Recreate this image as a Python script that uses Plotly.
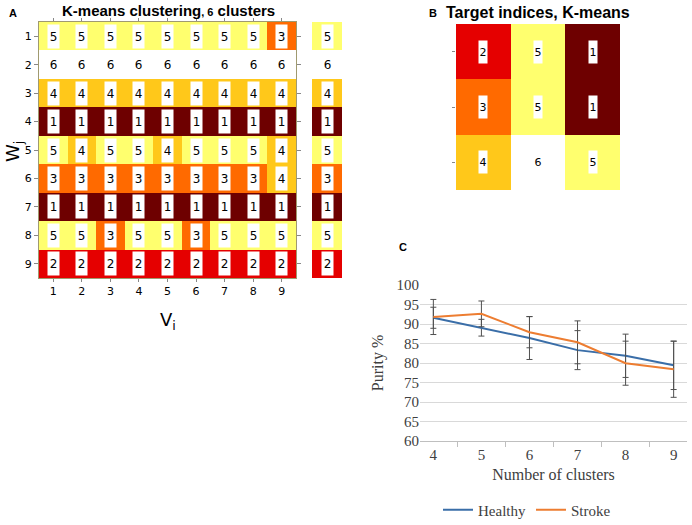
import plotly.graph_objects as go

# ---------------- data ----------------
rows_A = [1, 2, 3, 4, 5, 6, 7, 8, 9]          # W_j
cols_A = [1, 2, 3, 4, 5, 6, 7, 8, 9]          # V_i
kmeans_labels = [
    [5, 5, 5, 5, 5, 5, 5, 5, 3],
    [6, 6, 6, 6, 6, 6, 6, 6, 6],
    [4, 4, 4, 4, 4, 4, 4, 4, 4],
    [1, 1, 1, 1, 1, 1, 1, 1, 1],
    [5, 4, 5, 5, 4, 5, 5, 5, 4],
    [3, 3, 3, 3, 3, 3, 3, 3, 4],
    [1, 1, 1, 1, 1, 1, 1, 1, 1],
    [5, 5, 3, 5, 5, 3, 5, 5, 5],
    [2, 2, 2, 2, 2, 2, 2, 2, 2],
]
summary_labels = [5, 6, 4, 1, 5, 3, 1, 5, 2]

target_rows = [1, 2, 3]
target_cols = [1, 2, 3]
target_labels = [
    [2, 5, 1],
    [3, 5, 1],
    [4, 6, 5],
]

n_clusters = ["4", "5", "6", "7", "8", "9"]
healthy = [91.6, 89.05, 86.4, 83.3, 81.85, 79.4]
healthy_err = [2.7, 2.15, 5.5, 5.0, 5.55, 6.2]
stroke = [91.8, 92.6, 87.9, 85.3, 79.95, 78.4]
stroke_err = [4.5, 3.3, 4.0, 5.5, 5.65, 7.2]

# ---------------- styles ----------------
label_colors = ["#6e0000", "#e50000", "#ff6a00", "#ffc81a", "#ffff6e", "#ffffff"]
colorscale = []
for k, c in enumerate(label_colors):
    colorscale.append([k / 6, c])
    colorscale.append([(k + 1) / 6, c])

W, H = 692, 525
def fx(px):
    return px / W
def fy(px):
    return 1 - px / H

fig = go.Figure()

# Panel A main heatmap
fig.add_trace(go.Heatmap(
    z=kmeans_labels, x=cols_A, y=rows_A, colorscale=colorscale,
    zmin=0.5, zmax=6.5, showscale=False, xaxis="x", yaxis="y", hoverinfo="z",
    showlegend=False))
# Panel A summary column
fig.add_trace(go.Heatmap(
    z=[[v] for v in summary_labels], x=[1], y=rows_A, colorscale=colorscale,
    zmin=0.5, zmax=6.5, showscale=False, xaxis="x2", yaxis="y2", hoverinfo="z",
    showlegend=False))
# Panel B
fig.add_trace(go.Heatmap(
    z=target_labels, x=target_cols, y=target_rows, colorscale=colorscale,
    zmin=0.5, zmax=6.5, showscale=False, xaxis="x3", yaxis="y3", hoverinfo="z",
    showlegend=False))

# Panel C
fig.add_trace(go.Scatter(
    x=n_clusters, y=healthy, mode="lines", name="Healthy",
    line=dict(color="#3a6ea8", width=2),
    error_y=dict(type="data", array=healthy_err, color="#505050", thickness=1, width=3),
    xaxis="x4", yaxis="y4"))
fig.add_trace(go.Scatter(
    x=n_clusters, y=stroke, mode="lines", name="Stroke",
    line=dict(color="#ed7d31", width=2),
    error_y=dict(type="data", array=stroke_err, color="#505050", thickness=1, width=3),
    xaxis="x4", yaxis="y4"))

annotations = []
num_font = dict(family="DejaVu Sans", size=12, color="black")
for i, r in enumerate(rows_A):
    for j, c in enumerate(cols_A):
        annotations.append(dict(
            x=c, y=r, xref="x", yref="y", text=str(kmeans_labels[i][j]),
            showarrow=False, bgcolor="white", width=11, height=23, borderpad=0,
            font=num_font))
    annotations.append(dict(
        x=1, y=r, xref="x2", yref="y2", text=str(summary_labels[i]),
        showarrow=False, bgcolor="white", width=11, height=23, borderpad=0,
        font=num_font))
for i, r in enumerate(target_rows):
    for j, c in enumerate(target_cols):
        annotations.append(dict(
            x=c, y=r, xref="x3", yref="y3", text=str(target_labels[i][j]),
            showarrow=False, bgcolor="white", width=8, height=22, borderpad=0,
            font=dict(family="DejaVu Sans", size=11, color="black")))

lbl_font = dict(family="Liberation Sans", size=11, color="black")
def paper_text(px, py, text, font, **kw):
    d = dict(x=fx(px), y=fy(py), xref="paper", yref="paper", showarrow=False,
             xanchor="center", yanchor="middle", text=text, font=font)
    d.update(kw)
    return d

annotations += [
    paper_text(168, 10, "<b>K-means clustering<span style='font-size:11px'>, 6</span> clusters</b>",
               dict(family="Liberation Sans", size=15, color="black")),
    paper_text(538, 12, "<b>Target indices, K-means</b>",
               dict(family="Liberation Sans", size=16, color="black")),
    paper_text(13, 13, "<b>A</b>", lbl_font),
    paper_text(433, 13, "<b>B</b>", lbl_font),
    paper_text(403, 247, "<b>C</b>", lbl_font),
    paper_text(14, 152, "W<sub>j</sub>", dict(family="DejaVu Sans", size=18, color="black"), textangle=-90),
    paper_text(168, 321, "V<sub>i</sub>", dict(family="DejaVu Sans", size=18, color="black")),
]

tick_font_A = dict(family="DejaVu Sans", size=11, color="black")
serif = dict(family="Liberation Serif", size=15, color="#404040")

fig.update_layout(
    width=W, height=H, margin=dict(l=0, r=0, t=0, b=0, pad=0, autoexpand=False),
    paper_bgcolor="white", plot_bgcolor="white",
    annotations=annotations,
    showlegend=True,
    legend=dict(orientation="h", x=fx(527), y=fy(510), xanchor="center", yanchor="middle",
                font=dict(family="Liberation Serif", size=15, color="#404040"),
                itemwidth=30, tracegroupgap=0, bgcolor="rgba(0,0,0,0)"),
    xaxis=dict(domain=[fx(39), fx(296)], range=[0.5, 9.5], tickvals=cols_A,
               ticks="outside", ticklen=3, tickcolor="#888", tickfont=tick_font_A,
               showline=True, linecolor="#a09a70", mirror="ticks", showgrid=False,
               zeroline=False, fixedrange=True, automargin=False, anchor="y"),
    yaxis=dict(domain=[fy(278), fy(22)], range=[9.5, 0.5], tickvals=rows_A,
               ticks="outside", ticklen=4, tickcolor="#888", tickfont=tick_font_A,
               showline=True, linecolor="#a09a70", mirror="ticks", showgrid=False,
               zeroline=False, fixedrange=True, automargin=False, anchor="x"),
    xaxis2=dict(domain=[fx(312), fx(342)], range=[0.5, 1.5], showticklabels=False,
                ticks="", showgrid=False, zeroline=False, showline=False,
                automargin=False, anchor="y2"),
    yaxis2=dict(domain=[fy(278), fy(22)], range=[9.5, 0.5], showticklabels=False,
                ticks="", showgrid=False, zeroline=False, showline=False, anchor="x2",
                automargin=False),
    xaxis3=dict(domain=[fx(456), fx(620)], range=[0.5, 3.5], showticklabels=False,
                ticks="", showgrid=False, zeroline=False, showline=False, anchor="y3",
                automargin=False),
    yaxis3=dict(domain=[fy(190), fy(24)], range=[3.5, 0.5], showticklabels=False,
                tickvals=target_rows, ticks="outside", ticklen=3, tickcolor="#888",
                showgrid=False, zeroline=False, showline=False, anchor="x3",
                automargin=False),
    xaxis4=dict(domain=[fx(420), fx(687)], type="category", anchor="y4",
                tickfont=serif, ticks="outside", tickson="boundaries", ticklen=5,
                tickcolor="#bfbfbf", showline=True, linecolor="#bfbfbf",
                showgrid=False, zeroline=False, automargin=False,
                title=dict(text="Number of clusters", font=dict(family="Liberation Serif", size=16, color="#404040"), standoff=6)),
    yaxis4=dict(domain=[fy(441), fy(285)], range=[60, 100], dtick=5, anchor="x4",
                tickfont=serif, showgrid=True, gridcolor="#d9d9d9", gridwidth=1,
                zeroline=False, showline=False, ticks="", automargin=False,
                title=dict(text="Purity %", font=dict(family="Liberation Serif", size=16, color="#404040"), standoff=8)),
)

fig.write_html("out.html", config={"displayModeBar": False},
               post_script="document.body.style.margin='0px';")
